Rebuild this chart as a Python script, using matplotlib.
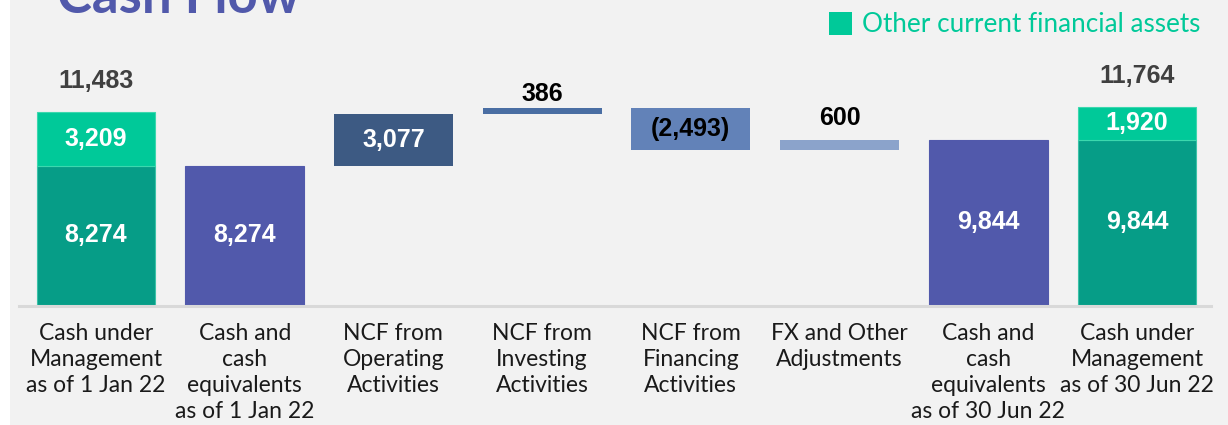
import matplotlib.pyplot as plt
from matplotlib.patches import Rectangle

# data
categories = ["Cash under\nManagement\nas of 1 Jan 22",
              "Cash and\ncash\nequivalents\nas of 1 Jan 22",
              "NCF from\nOperating\nActivities",
              "NCF from\nInvesting\nActivities",
              "NCF from\nFinancing\nActivities",
              "FX and Other\nAdjustments",
              "Cash and\ncash\nequivalents\nas of 30 Jun 22",
              "Cash under\nManagement\nas of 30 Jun 22"]
cash = [8274, 8274, None, None, None, None, 9844, 9844]
other_assets = [3209, None, None, None, None, None, None, 1920]
flows = [None, None, 3077, 386, -2493, 600, None, None]
flow_labels = ["", "", "3,077", "386", "(2,493)", "600", "", ""]

dark_teal = "#069d87"
light_teal = "#00c999"
purple = "#5159ab"
flow_colors = ["", "", "#3d5a83", "#4a6ea3", "#6282b8", "#8ba3cb"]
bg = "#f2f2f2"

fig = plt.figure(figsize=(12.28, 4.25), dpi=100, facecolor="white")
fig.patches.append(Rectangle((10 / 1228, 0), 1, 1, transform=fig.transFigure,
                             facecolor=bg, edgecolor="none", zorder=-10))

ax = fig.add_axes([0, (425 - 305) / 425, 1, 305 / 425])
ax.set_facecolor("none")
ax.set_xlim(-0.6456, 7.612)
ax.set_ylim(0, 305 / 0.01681)
ax.axis("off")

w = 0.80
num_font = "Liberation Sans"
lbl = dict(ha="center", va="center", fontsize=18, fontweight="bold", family=num_font)

running = 0
for i, cat in enumerate(categories):
    if cash[i] is not None:
        col = dark_teal if other_assets[i] is not None else purple
        ax.bar(i, cash[i], width=w, color=col, edgecolor="#3cc2a8" if col == dark_teal else col,
               linewidth=0.8)
        ax.text(i, cash[i] / 2, f"{cash[i]:,}", color="white", **lbl)
        running = cash[i]
        if other_assets[i] is not None:
            ax.bar(i, other_assets[i], bottom=cash[i], width=w, color=light_teal,
                   edgecolor="#3cd8ae", linewidth=0.8)
            ax.text(i, cash[i] + other_assets[i] / 2, f"{other_assets[i]:,}", color="white", **lbl)
            total = cash[i] + other_assets[i]
            ax.annotate(f"{total:,}", (i, total), xytext=(0, 13.5), textcoords="offset points",
                        ha="center", va="bottom", fontsize=18, fontweight="bold",
                        family=num_font, color="#404040")
    else:
        v = flows[i]
        bottom = running if v > 0 else running + v
        ax.bar(i, abs(v), bottom=bottom, width=w, color=flow_colors[i], linewidth=0)
        top = bottom + abs(v)
        if i == 2:
            ax.text(i, bottom + abs(v) / 2, flow_labels[i], color="white", **lbl)
        elif i == 4:
            ax.text(i, bottom + abs(v) / 2, flow_labels[i], color="black", **lbl)
        else:
            off = 1.5 if i == 3 else 6.8
            ax.annotate(flow_labels[i], (i, top), xytext=(0, off), textcoords="offset points",
                        ha="center", va="bottom", fontsize=18, fontweight="bold",
                        family=num_font, color="black")
        running += v

ax.plot([-0.52, 7.5], [-60, -60], color="#d9d9d9", lw=2.2, clip_on=False)

for i, cat in enumerate(categories):
    ax.text(i, -1050, cat, ha="center", va="top", fontsize=16.5, family="Lato",
            color="#1a1a1a", linespacing=1.3)

# title (cut off at top) and legend
fig.text(57 / 1228, 1 - 13 / 425, "Cash Flow", fontsize=38, fontweight="bold",
         family="Lato", color="#5159ab", ha="left", va="baseline")
fig.patches.append(Rectangle((829 / 1228, 1 - 35 / 425), 23 / 1228, 23 / 425,
                             transform=fig.transFigure, facecolor=light_teal, edgecolor="none"))
fig.text(862 / 1228, 1 - 24 / 425, "Other current financial assets", fontsize=18.8,
         family="Lato", color=light_teal, ha="left", va="center")

fig.savefig("out.png", dpi=100, facecolor=fig.get_facecolor())
